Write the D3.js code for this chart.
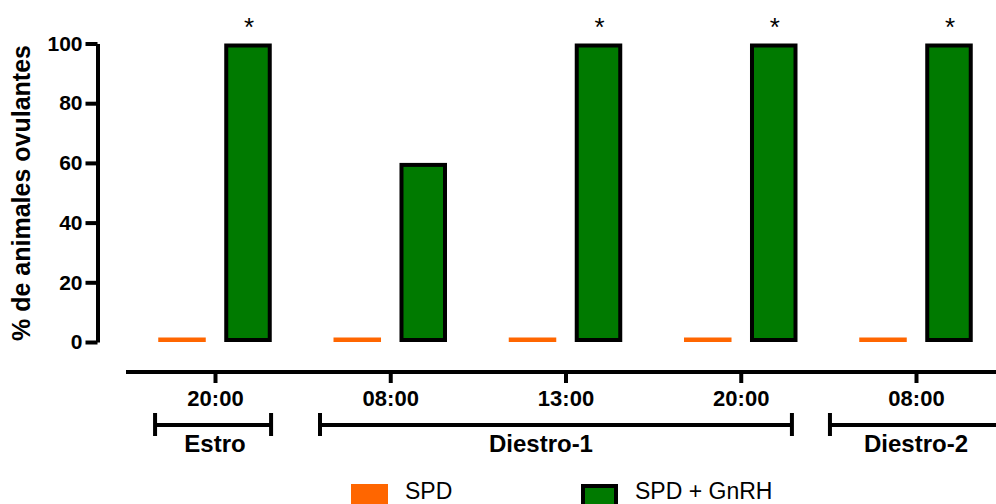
<!DOCTYPE html>
<html>
<head>
<meta charset="utf-8">
<script src="https://cdn.jsdelivr.net/npm/d3@7"></script>
<style>
  html, body { margin: 0; padding: 0; background: #fff; }
  svg { display: block; font-family: "Liberation Sans", Arial, sans-serif; }
</style>
</head>
<body>
<svg id="chart" width="996" height="504"></svg>
<script>
// Sampling times (x categories)
const timeLabels = ["20:00", "08:00", "13:00", "20:00", "08:00"];
// Series
const seriesNames = ["SPD", "SPD + GnRH"];
const spdValues = [0, 0, 0, 0, 0];
const gnrhValues = [100, 60, 100, 100, 100];
// Significance marks over the GnRH bars
const significant = [true, false, true, true, true];
// Y ticks
const yTicks = [0, 20, 40, 60, 80, 100];
// Cycle phases, spans expressed in category units
const phaseNames = ["Estro", "Diestro-1", "Diestro-2"];
const phaseStart = [-0.342, 0.599, 3.509];
const phaseEnd = [0.32, 3.292, 4.6];
const phaseLabelAt = [0, 1.86, 4.0];

const colors = { "SPD": "#ff6600", "SPD + GnRH": "#007a00" };
const svg = d3.select("#chart");

const y = d3.scaleLinear().domain([0, 100]).range([342, 43.5]);
const cats = d3.range(timeLabels.length);
const x0 = d3.scalePoint().domain(cats).range([215, 916]);
const xc = d3.scaleLinear().domain([0, cats.length - 1]).range([215, 916]);
const x1 = d3.scaleBand().domain(seriesNames).range([-56.75, 56.75]).paddingInner(0.28);

// Y axis
const yAxis = svg.append("g").attr("transform", "translate(97.5,0)")
  .call(d3.axisLeft(y).tickValues(yTicks).tickSize(12).tickPadding(3).tickSizeOuter(0));
yAxis.select(".domain").attr("stroke", "#000").attr("stroke-width", 4);
yAxis.selectAll(".tick line").attr("stroke", "#000").attr("stroke-width", 4);
yAxis.selectAll(".tick text").attr("fill", "#000")
  .style("font-size", "21px").style("font-weight", "bold");
yAxis.attr("font-family", null).attr("font-size", null);

svg.append("text")
  .attr("transform", "translate(30,193) rotate(-90)")
  .attr("text-anchor", "middle")
  .style("font-size", "25px").style("font-weight", "bold")
  .text("% de animales ovulantes");

// X axis
const xAxis = svg.append("g").attr("transform", "translate(0,372)")
  .call(d3.axisBottom(x0).tickSize(11).tickPadding(7).tickFormat(i => timeLabels[i]));
xAxis.select(".domain").attr("d", "M126,0H1000").attr("stroke", "#000").attr("stroke-width", 4);
xAxis.selectAll(".tick line").attr("stroke", "#000").attr("stroke-width", 4);
xAxis.selectAll(".tick text").attr("fill", "#000")
  .style("font-size", "22px").style("font-weight", "bold");
xAxis.attr("font-family", null).attr("font-size", null);

// Bars
const rows = cats.map(i => ({ i, values: [
  { s: "SPD", v: spdValues[i] },
  { s: "SPD + GnRH", v: gnrhValues[i] }
]}));

const groups = svg.append("g").selectAll("g").data(rows).join("g")
  .attr("transform", d => `translate(${x0(d.i)},0)`);

// SPD bars: plain orange fill, its outline keeps a zero-valued bar visible
groups.selectAll("rect.spd").data(d => d.values.filter(b => b.s === "SPD")).join("rect")
  .attr("class", "spd")
  .attr("x", d => x1(d.s))
  .attr("width", x1.bandwidth())
  .attr("y", d => y(d.v) - 4.5)
  .attr("height", d => y(0) - y(d.v) + 4.5)
  .attr("fill", d => colors[d.s]);

// SPD + GnRH bars: green fill with a black outline
groups.selectAll("rect.gnrh").data(d => d.values.filter(b => b.s !== "SPD")).join("rect")
  .attr("class", "gnrh")
  .attr("x", d => x1(d.s) + 2)
  .attr("width", x1.bandwidth() - 4)
  .attr("y", d => Math.min(y(d.v) + 2, y(0) - 2))
  .attr("height", d => Math.max(y(0) - y(d.v) - 4, 0))
  .attr("fill", d => colors[d.s])
  .attr("stroke", "#000")
  .attr("stroke-width", 4);

// Asterisks
svg.append("g").selectAll("text").data(cats.filter(i => significant[i])).join("text")
  .attr("x", i => x0(i) + x1("SPD + GnRH") + x1.bandwidth() / 2 + 1)
  .attr("y", i => y(gnrhValues[i]) - 8)
  .attr("text-anchor", "middle")
  .style("font-size", "26px")
  .text("*");

// Phase brackets
const phases = phaseNames.map((n, k) => ({ n, a: xc(phaseStart[k]), b: xc(phaseEnd[k]), c: xc(phaseLabelAt[k]) }));
const pg = svg.append("g").selectAll("g").data(phases).join("g");
pg.append("line").attr("x1", d => d.a).attr("x2", d => d.b).attr("y1", 425).attr("y2", 425)
  .attr("stroke", "#000").attr("stroke-width", 4);
pg.append("line").attr("x1", d => d.a).attr("x2", d => d.a).attr("y1", 413).attr("y2", 436)
  .attr("stroke", "#000").attr("stroke-width", 4);
pg.append("line").attr("x1", d => d.b).attr("x2", d => d.b).attr("y1", 413).attr("y2", 436)
  .attr("stroke", "#000").attr("stroke-width", 4);
pg.append("text").attr("x", d => d.c).attr("y", 452)
  .attr("text-anchor", "middle")
  .style("font-size", "24px").style("font-weight", "bold")
  .text(d => d.n);

// Legend
const legendX = [351, 581];
const lg = svg.append("g").selectAll("g").data(seriesNames).join("g")
  .attr("transform", (d, k) => `translate(${legendX[k]},484)`);
lg.append("rect")
  .attr("x", d => d === "SPD" ? 0 : 2).attr("y", d => d === "SPD" ? 0 : 2)
  .attr("width", d => d === "SPD" ? 37 : 33).attr("height", d => d === "SPD" ? 30 : 26)
  .attr("fill", d => colors[d])
  .attr("stroke", d => d === "SPD" ? "none" : "#000").attr("stroke-width", 4);
lg.append("text").attr("x", 54).attr("y", 15)
  .style("font-size", "23px")
  .text(d => d);
</script>
</body>
</html>
